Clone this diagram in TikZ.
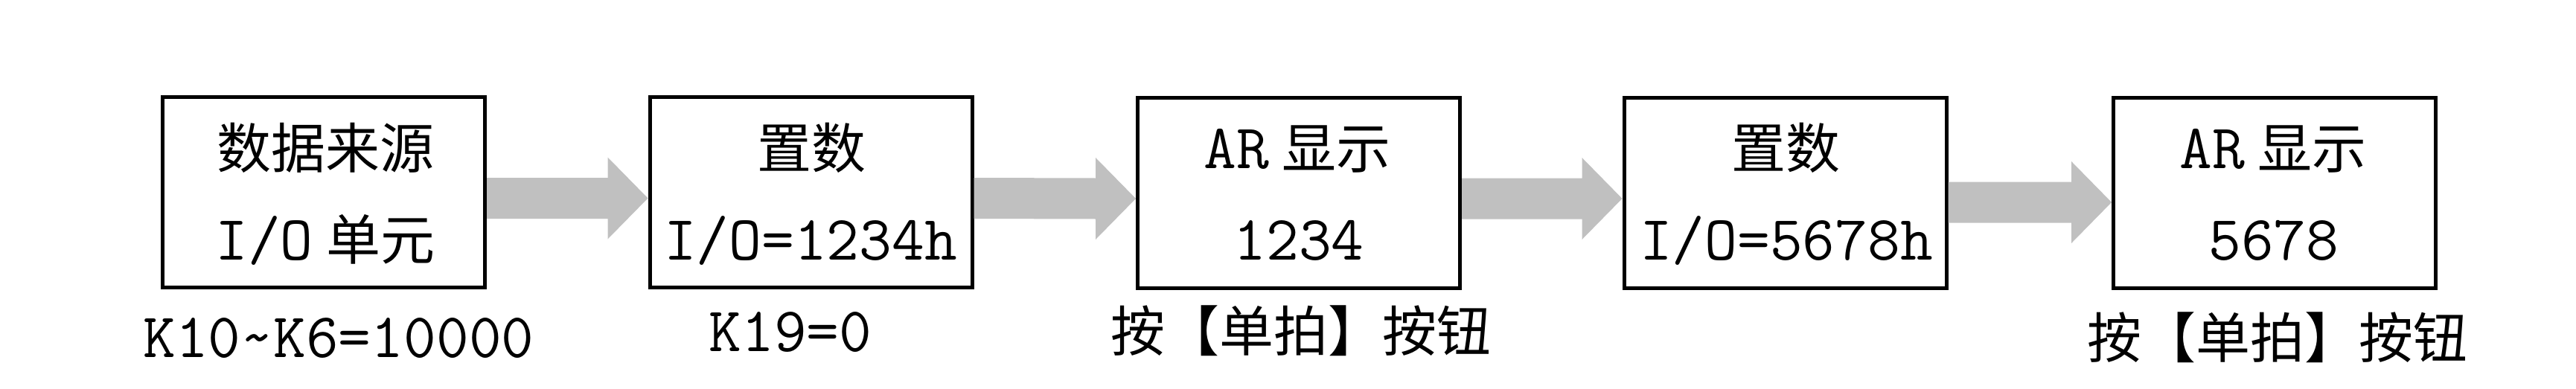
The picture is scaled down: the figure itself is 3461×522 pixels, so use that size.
\documentclass[tikz,border=0pt]{standalone}
\usepackage{fontspec}
\newfontfamily\cjk{Noto Sans CJK SC}
\usetikzlibrary{calc}
\definecolor{arrowgray}{RGB}{192,192,192}
\tikzset{
  box/.style={draw=black, line width=5pt, minimum width=433pt, minimum height=256pt, inner sep=0pt, outer sep=0pt},
  txt/.style={anchor=base, inner sep=0pt, outer sep=0pt, font=\ttfamily\fontsize{85}{90}\selectfont},
  arrowfill/.style={fill=arrowgray, draw=none}
}
\newcommand\zh[1]{{\cjk\fontsize{73}{80}\selectfont #1}}
\newcommand\grayarrow[2]{%
  \fill[arrowfill] ($(#1)+(0,27.5)$) -- ($(#2)+(-54,27.5)$) -- ($(#2)+(-54,55)$) -- (#2)
    -- ($(#2)+(-54,-55)$) -- ($(#2)+(-54,-27.5)$) -- ($(#1)+(0,-27.5)$) -- cycle;}
\begin{document}
\begin{tikzpicture}[x=1pt,y=1pt]
\useasboundingbox (0,0) rectangle (3461,-522);
% boxes
\node[box] (b1) at (435,-258.5) {};
\node[box] (b2) at (1089.5,-258.5) {};
\node[box] (b3) at (1745,-259) {};
\node[box] (b4) at (2398.5,-259) {};
\node[box] (b5) at (3056,-259) {};
% box texts
\node[txt] (t1a) at (437,-226) {\zh{数据来源}};
\node[txt] (t1b) at (437,-349) {I/O\hspace{18pt}\zh{单元}};
\node[txt] (t2a) at (1090,-226) {\zh{置数}};
\node[txt] (t2b) at (1089,-349) {I/O=1234h};
\node[txt] (t3a) at (1743,-226) {AR\hspace{18pt}\zh{显示}};
\node[txt] (t3b) at (1745,-349) {1234};
\node[txt] (t4a) at (2399.5,-226) {\zh{置数}};
\node[txt] (t4b) at (2400,-349) {I/O=5678h};
\node[txt] (t5a) at (3054,-226) {AR\hspace{18pt}\zh{显示}};
\node[txt] (t5b) at (3055,-349) {5678};
% labels below
\node[txt] (l1) at (455,-480) {K10\char`\~K6=10000};
\node[txt] (l2) at (1062,-472) {K19=0};
\node[txt] (l3) at (1748,-472) {\zh{按【单拍】按钮}};
\node[txt] (l4) at (3060,-481) {\zh{按【单拍】按钮}};
% arrows
\path (b1.east) ++(2.5,-8) coordinate (s1);
\path (b2.west) ++(-2.5,-8) coordinate (e1);
\path (b2.east) ++(2.5,-8) coordinate (s2);
\path (b3.west) ++(-2.5,-8) coordinate (e2);
\path (b3.east) ++(2.5,-8) coordinate (s3);
\path (b4.west) ++(-2.5,-8) coordinate (e3);
\path (b4.east) ++(2.5,-13) coordinate (s4);
\path (b5.west) ++(-2.5,-13) coordinate (e4);
\grayarrow{s1}{e1}
\grayarrow{s2}{e2}
\grayarrow{s3}{e3}
\grayarrow{s4}{e4}
\end{tikzpicture}
\end{document}
